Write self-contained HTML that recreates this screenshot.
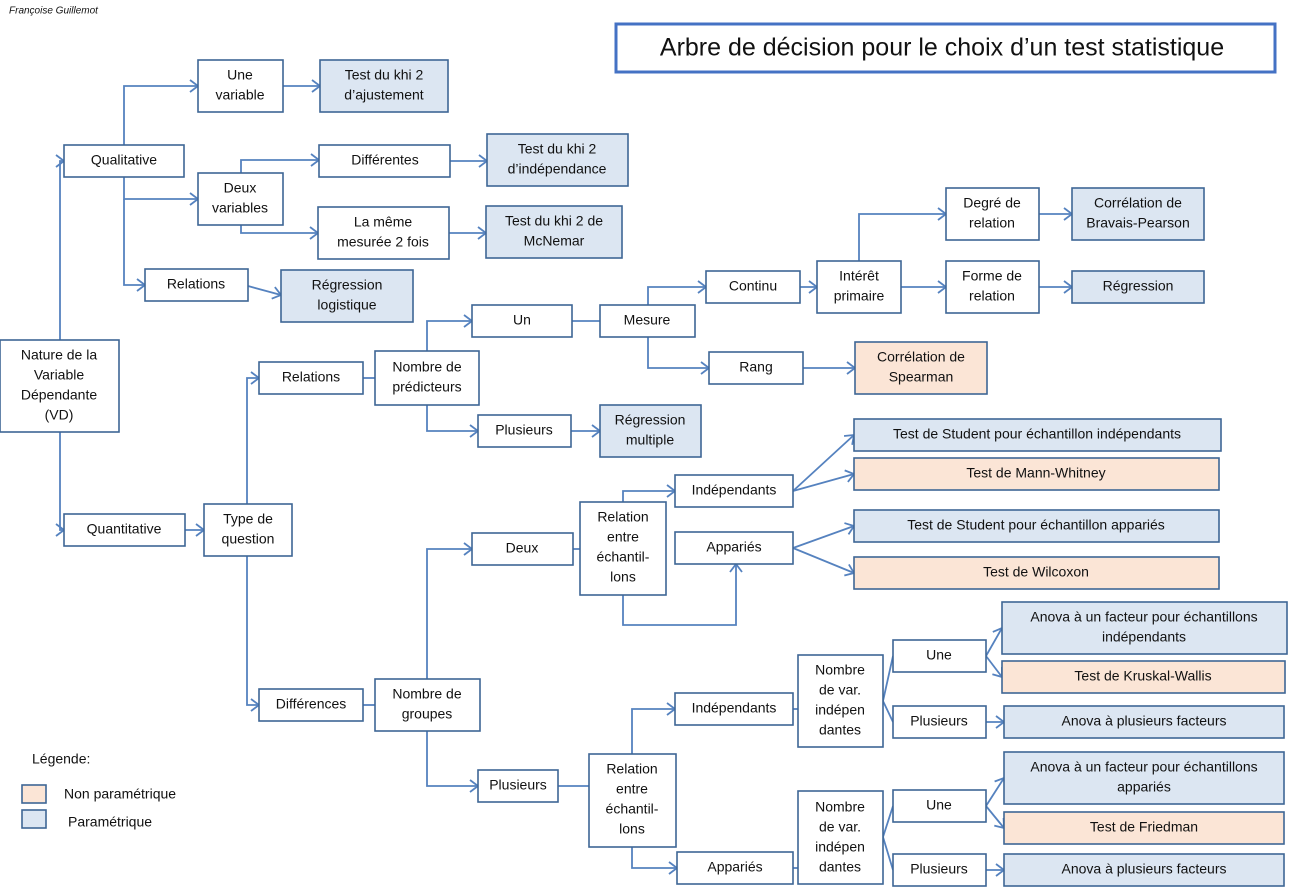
<!DOCTYPE html>
<html><head><meta charset="utf-8"><style>
html,body{margin:0;padding:0;background:#fff;}
svg{display:block;font-family:"Liberation Sans",Arial,sans-serif;}
.b{fill:#fff;stroke:#3e6695;stroke-width:1.6;}
.p{fill:#dce6f2;stroke:#3e6695;stroke-width:1.6;}
.n{fill:#fbe5d6;stroke:#3e6695;stroke-width:1.6;}
.l{fill:none;stroke:#5582bf;stroke-width:1.8;}
.a{fill:none;stroke:#5582bf;stroke-width:1.8;marker-end:url(#ar);}
text{font-size:14px;fill:#111;text-anchor:middle;dominant-baseline:middle;}
</style></head><body>
<svg width="1295" height="895" viewBox="0 0 1295 895">
<defs><marker id="ar" markerUnits="userSpaceOnUse" markerWidth="12" markerHeight="14" refX="9" refY="7" orient="auto"><path d="M1,1 L9,7 L1,13" fill="none" stroke="#5582bf" stroke-width="1.8"/></marker></defs>
<text x="9" y="11" style="font-size:10px;font-style:italic;text-anchor:start">Françoise Guillemot</text>
<rect x="616" y="24" width="659" height="48" fill="#fff" stroke="#4472c4" stroke-width="3"/>
<text x="942" y="49" style="font-size:25px">Arbre de décision pour le choix d’un test statistique</text>

<!-- connectors -->
<path class="a" d="M60,340 V161 H64"/>
<path class="a" d="M60,432 V530 H64"/>
<path class="a" d="M124,145 V86 H198"/>
<path class="a" d="M124,177 V199 H198"/>
<path class="a" d="M124,199 V285 H145"/>
<path class="a" d="M283,86 H320"/>
<path class="a" d="M241,173 V160 H319"/>
<path class="a" d="M241,225 V233 H318"/>
<path class="a" d="M450,161 H487"/>
<path class="a" d="M449,233 H486"/>
<path class="a" d="M248,286 L281,295"/>
<path class="a" d="M185,530 H204"/>
<path class="a" d="M247,504 V378 H259"/>
<path class="a" d="M247,556 V705 H259"/>
<path class="l" d="M363,378 H375"/>
<path class="a" d="M427,351 V321 H472"/>
<path class="a" d="M427,405 V431 H478"/>
<path class="l" d="M572,321 H600"/>
<path class="a" d="M571,431 H600"/>
<path class="a" d="M648,305 V287 H706"/>
<path class="a" d="M648,337 V368 H709"/>
<path class="a" d="M800,287 H817"/>
<path class="a" d="M803,368 H855"/>
<path class="a" d="M859,261 V214 H946"/>
<path class="a" d="M901,287 H946"/>
<path class="a" d="M1039,214 H1072"/>
<path class="a" d="M1039,287 H1072"/>
<path class="l" d="M363,705 H375"/>
<path class="a" d="M427,679 V549 H472"/>
<path class="a" d="M427,731 V786 H478"/>
<path class="l" d="M573,549 H580"/>
<path class="a" d="M623,502 V491 H675"/>
<path class="a" d="M623,595 V625 H736 V564"/>
<path class="a" d="M793,491 L854,435"/>
<path class="a" d="M793,491 L854,474"/>
<path class="a" d="M793,548 L854,526"/>
<path class="a" d="M793,548 L854,573"/>
<path class="l" d="M558,786 H589"/>
<path class="a" d="M632,754 V709 H675"/>
<path class="a" d="M632,847 V868 H677"/>
<path class="l" d="M793,709 H798"/>
<path class="l" d="M793,868 H798"/>
<path class="l" d="M883,701 L893,656 M883,701 L893,722"/>
<path class="l" d="M883,837 L893,806 M883,837 L893,870"/>
<path class="a" d="M986,656 L1002,628"/>
<path class="a" d="M986,656 L1002,677"/>
<path class="a" d="M986,722 H1004"/>
<path class="a" d="M986,806 L1004,778"/>
<path class="a" d="M986,806 L1004,828"/>
<path class="a" d="M986,870 H1004"/>

<!-- boxes -->
<rect class="b" x="0" y="340" width="119" height="92"/>
<text x="59" y="356">Nature de la</text><text x="59" y="376">Variable</text><text x="59" y="396">Dépendante</text><text x="59" y="416">(VD)</text>
<rect class="b" x="64" y="145" width="120" height="32"/><text x="124" y="161">Qualitative</text>
<rect class="b" x="198" y="60" width="85" height="52"/><text x="240" y="76">Une</text><text x="240" y="96">variable</text>
<rect class="p" x="320" y="60" width="128" height="52"/><text x="384" y="76">Test du khi 2</text><text x="384" y="96">d’ajustement</text>
<rect class="b" x="198" y="173" width="85" height="52"/><text x="240" y="189">Deux</text><text x="240" y="209">variables</text>
<rect class="b" x="319" y="145" width="131" height="32"/><text x="385" y="161">Différentes</text>
<rect class="p" x="487" y="134" width="141" height="52"/><text x="557" y="150">Test du khi 2</text><text x="557" y="170">d’indépendance</text>
<rect class="b" x="318" y="207" width="131" height="52"/><text x="383" y="223">La même</text><text x="383" y="243">mesurée 2 fois</text>
<rect class="p" x="486" y="206" width="136" height="52"/><text x="554" y="222">Test du khi 2 de</text><text x="554" y="242">McNemar</text>
<rect class="b" x="145" y="269" width="103" height="32"/><text x="196" y="285">Relations</text>
<rect class="p" x="281" y="270" width="132" height="52"/><text x="347" y="286">Régression</text><text x="347" y="306">logistique</text>
<rect class="b" x="64" y="514" width="121" height="32"/><text x="124" y="530">Quantitative</text>
<rect class="b" x="204" y="504" width="88" height="52"/><text x="248" y="520">Type de</text><text x="248" y="540">question</text>
<rect class="b" x="259" y="362" width="104" height="32"/><text x="311" y="378">Relations</text>
<rect class="b" x="375" y="351" width="104" height="54"/><text x="427" y="368">Nombre de</text><text x="427" y="388">prédicteurs</text>
<rect class="b" x="472" y="305" width="100" height="32"/><text x="522" y="321">Un</text>
<rect class="b" x="478" y="415" width="93" height="32"/><text x="524" y="431">Plusieurs</text>
<rect class="p" x="600" y="405" width="101" height="52"/><text x="650" y="421">Régression</text><text x="650" y="441">multiple</text>
<rect class="b" x="600" y="305" width="95" height="32"/><text x="647" y="321">Mesure</text>
<rect class="b" x="706" y="271" width="94" height="32"/><text x="753" y="287">Continu</text>
<rect class="b" x="709" y="352" width="94" height="32"/><text x="756" y="368">Rang</text>
<rect class="b" x="817" y="261" width="84" height="52"/><text x="859" y="277">Intérêt</text><text x="859" y="297">primaire</text>
<rect class="n" x="855" y="342" width="132" height="52"/><text x="921" y="358">Corrélation de</text><text x="921" y="378">Spearman</text>
<rect class="b" x="946" y="188" width="93" height="52"/><text x="992" y="204">Degré de</text><text x="992" y="224">relation</text>
<rect class="p" x="1072" y="188" width="132" height="52"/><text x="1138" y="204">Corrélation de</text><text x="1138" y="224">Bravais-Pearson</text>
<rect class="b" x="946" y="261" width="93" height="52"/><text x="992" y="277">Forme de</text><text x="992" y="297">relation</text>
<rect class="p" x="1072" y="271" width="132" height="32"/><text x="1138" y="287">Régression</text>
<rect class="b" x="259" y="689" width="104" height="32"/><text x="311" y="705">Différences</text>
<rect class="b" x="375" y="679" width="105" height="52"/><text x="427" y="695">Nombre de</text><text x="427" y="715">groupes</text>
<rect class="b" x="472" y="533" width="101" height="32"/><text x="522" y="549">Deux</text>
<rect class="b" x="478" y="770" width="80" height="32"/><text x="518" y="786">Plusieurs</text>
<rect class="b" x="580" y="502" width="86" height="93"/><text x="623" y="518">Relation</text><text x="623" y="538">entre</text><text x="623" y="558">échantil-</text><text x="623" y="578">lons</text>
<rect class="b" x="675" y="475" width="118" height="32"/><text x="734" y="491">Indépendants</text>
<rect class="b" x="675" y="532" width="118" height="32"/><text x="734" y="548">Appariés</text>
<rect class="p" x="854" y="419" width="367" height="32"/><text x="1037" y="435">Test de Student pour échantillon indépendants</text>
<rect class="n" x="854" y="458" width="365" height="32"/><text x="1036" y="474">Test de Mann-Whitney</text>
<rect class="p" x="854" y="510" width="365" height="32"/><text x="1036" y="526">Test de Student pour échantillon appariés</text>
<rect class="n" x="854" y="557" width="365" height="32"/><text x="1036" y="573">Test de Wilcoxon</text>
<rect class="b" x="589" y="754" width="87" height="93"/><text x="632" y="770">Relation</text><text x="632" y="790">entre</text><text x="632" y="810">échantil-</text><text x="632" y="830">lons</text>
<rect class="b" x="675" y="693" width="118" height="32"/><text x="734" y="709">Indépendants</text>
<rect class="b" x="677" y="852" width="116" height="32"/><text x="735" y="868">Appariés</text>
<rect class="b" x="798" y="655" width="85" height="92"/><text x="840" y="671">Nombre</text><text x="840" y="691">de var.</text><text x="840" y="711">indépen</text><text x="840" y="731">dantes</text>
<rect class="b" x="893" y="640" width="93" height="32"/><text x="939" y="656">Une</text>
<rect class="b" x="893" y="706" width="93" height="32"/><text x="939" y="722">Plusieurs</text>
<rect class="p" x="1002" y="602" width="285" height="52"/><text x="1144" y="618">Anova à un facteur pour échantillons</text><text x="1144" y="638">indépendants</text>
<rect class="n" x="1002" y="661" width="283" height="32"/><text x="1143" y="677">Test de Kruskal-Wallis</text>
<rect class="p" x="1004" y="706" width="280" height="32"/><text x="1144" y="722">Anova à plusieurs facteurs</text>
<rect class="b" x="798" y="791" width="85" height="93"/><text x="840" y="808">Nombre</text><text x="840" y="828">de var.</text><text x="840" y="848">indépen</text><text x="840" y="868">dantes</text>
<rect class="b" x="893" y="790" width="93" height="32"/><text x="939" y="806">Une</text>
<rect class="b" x="893" y="854" width="93" height="32"/><text x="939" y="870">Plusieurs</text>
<rect class="p" x="1004" y="752" width="280" height="52"/><text x="1144" y="768">Anova à un facteur pour échantillons</text><text x="1144" y="788">appariés</text>
<rect class="n" x="1004" y="812" width="280" height="32"/><text x="1144" y="828">Test de Friedman</text>
<rect class="p" x="1004" y="854" width="280" height="32"/><text x="1144" y="870">Anova à plusieurs facteurs</text>

<!-- legend -->
<text x="32" y="760" style="text-anchor:start">Légende:</text>
<rect class="n" x="22" y="785" width="24" height="18"/>
<rect class="p" x="22" y="810" width="24" height="18"/>
<text x="64" y="795" style="text-anchor:start">Non paramétrique</text>
<text x="68" y="823" style="text-anchor:start">Paramétrique</text>
</svg>
</body></html>
